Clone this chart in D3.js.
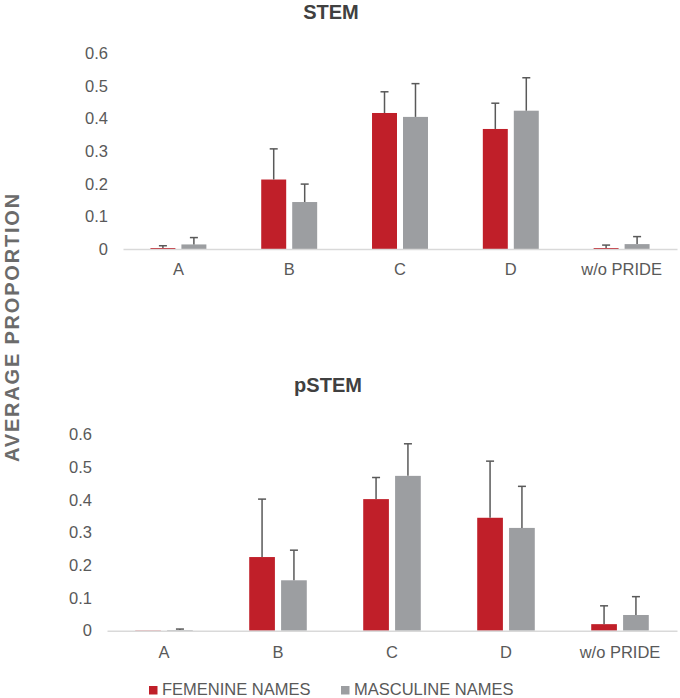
<!DOCTYPE html>
<html>
<head>
<meta charset="utf-8">
<script src="https://cdn.jsdelivr.net/npm/d3@7"></script>
<style>
  body { margin: 0; background: #fff; }
  svg { display: block; font-family: "Liberation Sans", Arial, sans-serif; }
</style>
</head>
<body>
<svg width="680" height="698"></svg>
<script>
const categories = ["A", "B", "C", "D", "w/o PRIDE"];
const series = ["FEMENINE NAMES", "MASCULINE NAMES"];
const colors = ["#c01f29", "#9c9ea1"];
const yTicks = [0, 0.1, 0.2, 0.3, 0.4, 0.5, 0.6];

// STEM panel: mean and upper error
const stemFem = [0.003, 0.213, 0.417, 0.368, 0.003];
const stemFemErr = [0.007, 0.094, 0.065, 0.079, 0.009];
const stemMas = [0.014, 0.144, 0.405, 0.424, 0.015];
const stemMasErr = [0.021, 0.055, 0.102, 0.101, 0.023];

// pSTEM panel
const pstemFem = [0.001, 0.225, 0.402, 0.345, 0.020];
const pstemFemErr = [0, 0.177, 0.066, 0.173, 0.056];
const pstemMas = [0.002, 0.154, 0.473, 0.314, 0.048];
const pstemMasErr = [0.003, 0.092, 0.098, 0.127, 0.056];

const svg = d3.select("svg");

const fmt = d => d === 0 ? "0" : d3.format(".1f")(d);

function panel(opts) {
  const { title, titleX, titleY, left, right, top, bottom, labelPad, values, errors } = opts;

  const x = d3.scaleBand().domain(categories).range([left, right])
    .paddingInner(0.495).paddingOuter(0.2475);
  const x1 = d3.scaleBand().domain(series).range([0, x.bandwidth()]).paddingInner(0.194);
  const y = d3.scaleLinear().domain([0, 0.6]).range([bottom, top]);

  const g = svg.append("g");

  // title
  g.append("text")
    .attr("x", titleX).attr("y", titleY)
    .attr("text-anchor", "middle")
    .attr("font-size", 20).attr("font-weight", "bold")
    .attr("fill", "#404040")
    .text(title);

  // y axis labels, no line
  const ya = g.append("g")
    .attr("transform", `translate(${left},0)`)
    .call(d3.axisLeft(y).tickValues(yTicks).tickFormat(fmt).tickSize(0).tickPadding(15));
  ya.select(".domain").remove();
  ya.selectAll("text").attr("font-size", 16.5).attr("fill", "#595959")
    .attr("font-family", "Liberation Sans, Arial, sans-serif");

  // bars
  const rows = categories.map((c, i) => series.map((s, j) => ({
    cat: c, s, j, v: values[j][i], e: errors[j][i]
  })));

  const grp = g.selectAll(".cat").data(rows).join("g")
    .attr("transform", d => `translate(${x(d[0].cat)},0)`);

  grp.selectAll("rect").data(d => d).join("rect")
    .attr("x", d => x1(d.s))
    .attr("width", x1.bandwidth())
    .attr("y", d => y(d.v))
    .attr("height", d => y(0) - y(d.v))
    .attr("fill", d => colors[d.j]);

  // upper error bars
  const eb = grp.selectAll(".err").data(d => d.filter(r => r.e > 0)).join("g")
    .attr("class", "err")
    .attr("stroke", "#595959").attr("stroke-width", 1.5);
  eb.append("line")
    .attr("x1", d => x1(d.s) + x1.bandwidth() / 2)
    .attr("x2", d => x1(d.s) + x1.bandwidth() / 2)
    .attr("y1", d => y(d.v))
    .attr("y2", d => y(d.v + d.e));
  eb.append("line")
    .attr("x1", d => x1(d.s) + x1.bandwidth() / 2 - 4)
    .attr("x2", d => x1(d.s) + x1.bandwidth() / 2 + 4)
    .attr("y1", d => y(d.v + d.e))
    .attr("y2", d => y(d.v + d.e));

  // x axis
  const xa = g.append("g")
    .attr("transform", `translate(0,${bottom})`)
    .call(d3.axisBottom(x).tickSize(0).tickPadding(labelPad).tickSizeOuter(0));
  xa.select(".domain").attr("stroke", "#d9d9d9").attr("stroke-width", 1.5);
  xa.selectAll("text").attr("font-size", 16.5).attr("fill", "#595959")
    .attr("font-family", "Liberation Sans, Arial, sans-serif");
}

panel({
  title: "STEM", titleX: 331, titleY: 19,
  left: 123, right: 677, top: 53.3, bottom: 249, labelPad: 14,
  values: [stemFem, stemMas], errors: [stemFemErr, stemMasErr]
});

panel({
  title: "pSTEM", titleX: 328, titleY: 392,
  left: 107, right: 677, top: 434.3, bottom: 630.7, labelPad: 16,
  values: [pstemFem, pstemMas], errors: [pstemFemErr, pstemMasErr]
});

// y axis title
svg.append("text")
  .attr("transform", "translate(19,327) rotate(-90)")
  .attr("text-anchor", "middle")
  .attr("font-size", 20).attr("font-weight", "bold")
  .attr("letter-spacing", 1.8)
  .attr("fill", "#6b6b6b")
  .text("AVERAGE PROPORTION");

// legend
const legendX = [149, 341];
const lg = svg.append("g").selectAll("g").data(series).join("g")
  .attr("transform", (d, i) => `translate(${legendX[i]},686)`);
lg.append("rect").attr("width", 8.5).attr("height", 8.5)
  .attr("fill", (d, i) => colors[i]);
lg.append("text").attr("x", 13).attr("y", 9)
  .attr("font-size", 16.5).attr("fill", "#595959")
  .text(d => d);
</script>
</body>
</html>
